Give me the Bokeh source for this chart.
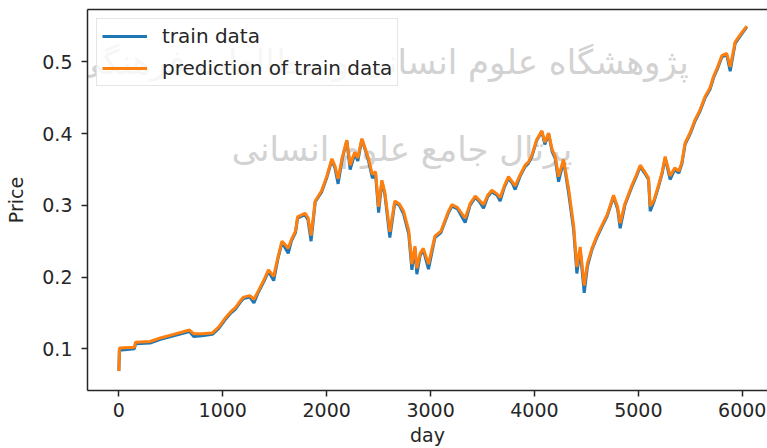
from bokeh.plotting import figure
from bokeh.models import Range1d, LinearAxis, FixedTicker, Label, ColumnDataSource
from bokeh.embed import file_html
from bokeh.resources import INLINE

# trading day index
day = [0, 5, 150, 160, 300, 400, 500, 680, 720, 800, 900, 960, 1020, 1080, 1120,
       1170, 1200, 1260, 1300, 1340, 1400, 1440, 1490, 1530, 1570, 1630, 1660, 1700,
       1720, 1790, 1820, 1850, 1890, 1950, 2000, 2050, 2080, 2110, 2150, 2194, 2226,
       2270, 2300, 2339, 2370, 2403, 2440, 2470, 2500, 2531, 2560, 2608, 2656, 2700,
       2740, 2790, 2820, 2850, 2868, 2900, 2930, 2980, 3042, 3100, 3173, 3205, 3260,
       3333, 3380, 3430, 3470, 3510, 3550, 3590, 3640, 3670, 3710, 3750, 3790, 3814,
       3860, 3910, 3940, 3975, 4020, 4071, 4100, 4136, 4170, 4200, 4232, 4280, 4328,
       4377, 4408, 4440, 4479, 4510, 4553, 4600, 4649, 4700, 4761, 4800, 4825, 4870,
       4938, 4980, 5018, 5060, 5098, 5114, 5150, 5194, 5230, 5258, 5306, 5350, 5390,
       5419, 5450, 5500, 5547, 5590, 5643, 5690, 5724, 5760, 5804, 5850, 5884, 5932,
       5990, 6044]

# normalised closing price (training set)
train_price = [0.069, 0.098, 0.100, 0.107, 0.108, 0.113, 0.117, 0.124, 0.117, 0.118,
               0.120, 0.128, 0.140, 0.150, 0.155, 0.165, 0.170, 0.172, 0.164, 0.178,
               0.195, 0.208, 0.195, 0.225, 0.248, 0.233, 0.250, 0.262, 0.282, 0.287,
               0.280, 0.250, 0.305, 0.318, 0.338, 0.363, 0.352, 0.330, 0.365, 0.390,
               0.350, 0.372, 0.362, 0.392, 0.378, 0.362, 0.338, 0.345, 0.290, 0.333,
               0.315, 0.255, 0.304, 0.300, 0.288, 0.260, 0.210, 0.240, 0.204, 0.230,
               0.238, 0.211, 0.255, 0.262, 0.290, 0.299, 0.295, 0.276, 0.300, 0.311,
               0.305, 0.296, 0.312, 0.319, 0.314, 0.306, 0.325, 0.338, 0.330, 0.322,
               0.340, 0.354, 0.358, 0.368, 0.390, 0.403, 0.385, 0.400, 0.375, 0.365,
               0.333, 0.362, 0.318, 0.266, 0.205, 0.238, 0.178, 0.215, 0.238, 0.255,
               0.270, 0.285, 0.312, 0.295, 0.268, 0.300, 0.326, 0.340, 0.354, 0.345,
               0.336, 0.292, 0.305, 0.326, 0.345, 0.366, 0.336, 0.350, 0.345, 0.358,
               0.385, 0.400, 0.418, 0.430, 0.450, 0.462, 0.478, 0.490, 0.507, 0.510,
               0.487, 0.526, 0.538, 0.549]

# model output on the training set
pred_price = [0.069, 0.101, 0.102, 0.109, 0.110, 0.115, 0.119, 0.126, 0.121, 0.121,
              0.122, 0.130, 0.142, 0.152, 0.157, 0.167, 0.172, 0.174, 0.169, 0.180,
              0.197, 0.210, 0.201, 0.227, 0.250, 0.240, 0.252, 0.264, 0.284, 0.289,
              0.283, 0.258, 0.306, 0.320, 0.340, 0.365, 0.355, 0.337, 0.367, 0.391,
              0.356, 0.374, 0.366, 0.393, 0.380, 0.365, 0.343, 0.347, 0.298, 0.335,
              0.318, 0.263, 0.306, 0.302, 0.292, 0.265, 0.218, 0.243, 0.212, 0.233,
              0.240, 0.218, 0.257, 0.264, 0.292, 0.301, 0.297, 0.282, 0.302, 0.313,
              0.307, 0.301, 0.314, 0.321, 0.316, 0.311, 0.327, 0.340, 0.332, 0.327,
              0.342, 0.356, 0.360, 0.370, 0.391, 0.404, 0.388, 0.401, 0.378, 0.368,
              0.340, 0.364, 0.324, 0.272, 0.214, 0.242, 0.188, 0.219, 0.240, 0.257,
              0.272, 0.287, 0.314, 0.298, 0.275, 0.302, 0.328, 0.342, 0.356, 0.347,
              0.338, 0.299, 0.307, 0.328, 0.347, 0.368, 0.341, 0.352, 0.348, 0.360,
              0.387, 0.402, 0.420, 0.432, 0.452, 0.464, 0.480, 0.492, 0.509, 0.512,
              0.493, 0.528, 0.540, 0.550]

x_ticks = [0, 1000, 2000, 3000, 4000, 5000, 6000]
y_ticks = [0.1, 0.2, 0.3, 0.4, 0.5]

FONT = "DejaVu Sans"
INK = "#262626"

src = ColumnDataSource(dict(day=day, train=train_price, pred=pred_price))

p = figure(width=767, height=448, output_backend="svg", toolbar_location=None,
           x_range=Range1d(-302, 6243), y_range=Range1d(0.0417, 0.5732),
           min_border_left=87, min_border_right=0, min_border_top=9,
           min_border_bottom=56)
p.background_fill_color = "white"
p.border_fill_color = "white"
p.outline_line_color = None
p.grid.visible = False

# faint watermark behind the curves
for txt, wx, wy in [("پژوهشگاه علوم انسانی و مطالعات فرهنگی", 2531, 0.500),
                    ("پرتال جامع علوم انسانی", 2724, 0.378)]:
    p.add_layout(Label(x=wx, y=wy, text=txt, text_font=FONT, text_font_size="34px",
                       text_color="#d2d2d2", text_align="center",
                       text_baseline="middle", level="underlay"))

p.line("day", "train", source=src, color="#1f77b4", line_width=3,
       legend_label="train data")
p.line("day", "pred", source=src, color="#ff7f0e", line_width=3,
       legend_label="prediction of train data")

for ax in (p.xaxis[0], p.yaxis[0]):
    ax.axis_line_color = INK
    ax.axis_line_width = 1.5
    ax.major_tick_line_color = INK
    ax.major_tick_line_width = 1.5
    ax.major_tick_out = 6
    ax.major_tick_in = 0
    ax.minor_tick_line_color = None
    ax.major_label_text_font = FONT
    ax.major_label_text_font_size = "19px"
    ax.major_label_text_color = INK
    ax.axis_label_text_font = FONT
    ax.axis_label_text_font_size = "19px"
    ax.axis_label_text_font_style = "normal"
    ax.axis_label_text_color = INK

p.xaxis.ticker = FixedTicker(ticks=x_ticks)
p.yaxis.ticker = FixedTicker(ticks=y_ticks)
p.xaxis.axis_label = "day"
p.yaxis.axis_label = "Price"
p.xaxis.major_label_standoff = 6
p.xaxis.axis_label_standoff = 4
p.yaxis.major_label_standoff = 9
p.yaxis.axis_label_standoff = 12

# top spine
top = LinearAxis(ticker=FixedTicker(ticks=[]), axis_line_color=INK,
                 axis_line_width=1.5, major_tick_out=0, major_tick_in=0,
                 minor_tick_line_color=None, major_label_standoff=0,
                 major_label_text_font_size="0px")
p.add_layout(top, "above")

lg = p.legend[0]
lg.location = "top_left"
lg.margin = 9
lg.padding = 5
lg.spacing = 8
lg.glyph_width = 45
lg.glyph_height = 20
lg.label_height = 20
lg.label_standoff = 15
lg.label_text_font = FONT
lg.label_text_font_size = "20px"
lg.label_text_color = INK
lg.border_line_color = "#cccccc"
lg.border_line_width = 1
lg.background_fill_color = "white"
lg.background_fill_alpha = 0.8

open("out.html", "w").write(file_html(p, INLINE))
